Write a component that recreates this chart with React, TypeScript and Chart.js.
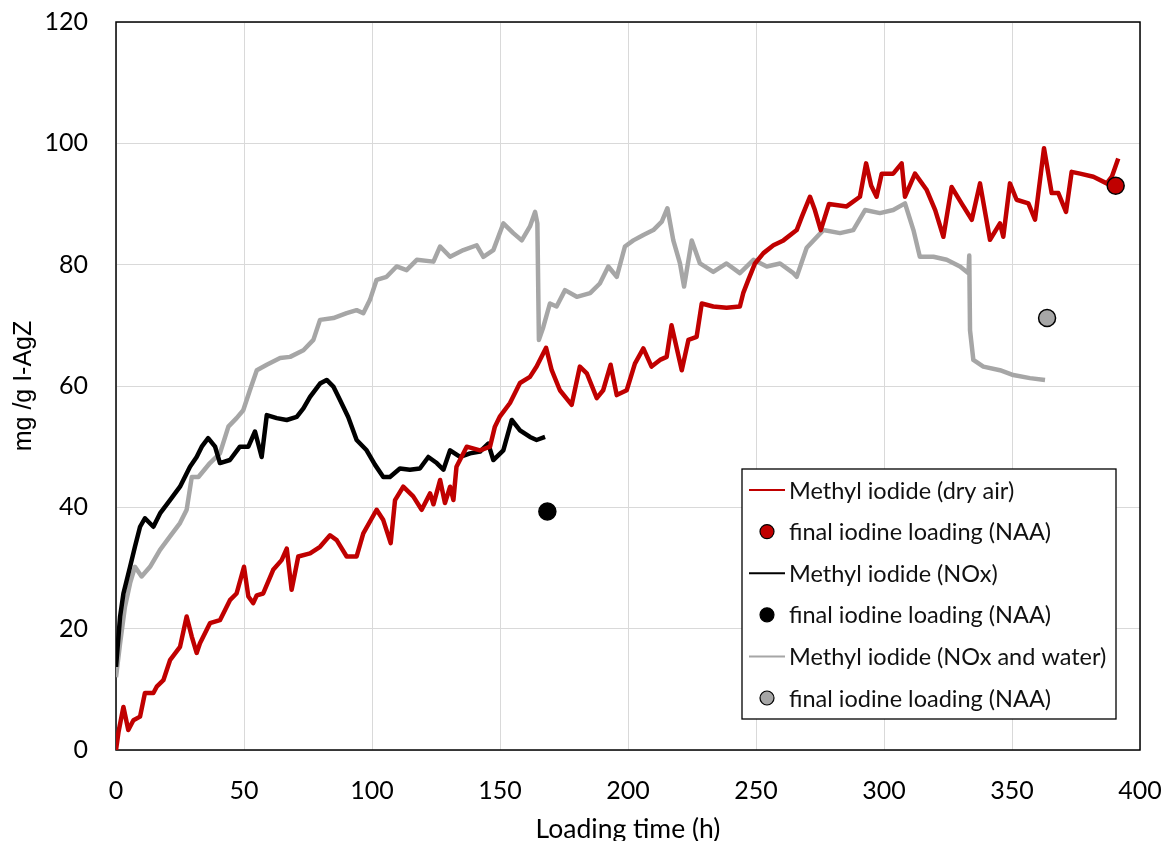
import React, { useEffect, useRef } from "react";
import { Chart, registerables } from "chart.js";

Chart.register(...registerables);

// ---- Data ----
const dryAirTime = [0, 1, 2.9, 4.8, 6.8, 9.4, 11.3, 14.6, 16, 18.5, 21.1, 25, 27.6, 29.6, 31.5, 32.8, 36.7, 40.6, 44.5, 47.1, 50, 51.7, 53.6, 55, 57.5, 61.4, 64.7, 66.7, 68.6, 71.2, 75.8, 79.7, 83.6, 86.2, 90.1, 94, 96.6, 101.8, 104.4, 107.3, 109, 112.2, 116.1, 119.4, 122.7, 124, 126.6, 128.5, 130.5, 131.8, 133, 137, 142.2, 146.1, 148, 150, 153.9, 157.8, 161.7, 164.3, 168, 170.2, 173.4, 178, 181.2, 183.9, 187.8, 190.3, 193.2, 195.6, 199.5, 202.7, 206, 209.2, 212.5, 215.1, 217, 221, 223.6, 226.8, 228.8, 233.3, 238.5, 243.7, 245, 247, 249.6, 252.9, 256.8, 260.7, 265.9, 268, 271.1, 273, 275.3, 278.5, 285.4, 290.6, 293, 295, 297.1, 299.1, 303.6, 306.9, 308.2, 312.1, 316.7, 320, 323.2, 326.4, 330.3, 334.3, 337.5, 341.4, 345.3, 346.6, 349.2, 351.8, 356.4, 359, 362.5, 365.5, 368.1, 371.1, 373.3, 376.6, 381.8, 387, 389, 391.5];
const dryAirLoad = [0, 3, 7.1, 3.3, 4.9, 5.5, 9.4, 9.4, 10.5, 11.5, 14.8, 17, 22, 18.7, 16, 17.6, 20.9, 21.4, 24.7, 25.8, 30.2, 25.3, 24.2, 25.5, 25.8, 29.7, 31.3, 33.2, 26.4, 31.9, 32.4, 33.5, 35.4, 34.6, 31.9, 31.9, 35.7, 39.6, 37.9, 34.1, 41.2, 43.4, 41.8, 39.6, 42.3, 40.5, 44.5, 40.7, 43.4, 41.2, 46.7, 50, 49.4, 50, 53.3, 55, 57.2, 60.5, 61.5, 63.2, 66.3, 62.6, 59.3, 56.9, 63.2, 62.1, 58, 59.3, 63.5, 58.5, 59.3, 63.7, 66.2, 63.2, 64.3, 64.8, 70, 62.6, 67.6, 68.1, 73.6, 73.1, 72.9, 73.1, 75.3, 77.5, 80.2, 81.9, 83.2, 84, 85.7, 88, 91.2, 89, 85.7, 90, 89.6, 91.2, 96.7, 93, 91.2, 95, 95, 96.7, 91.2, 95, 92.3, 89, 84.6, 92.8, 90.1, 87.4, 93.4, 84.1, 86.8, 84.6, 93.4, 90.7, 90.1, 87.4, 99.2, 91.8, 91.8, 88.7, 95.3, 95, 94.5, 93.4, 94.5, 97.5];

const noxTime = [0, 1.6, 2.9, 5.5, 7.4, 9.4, 11.3, 14.6, 17.2, 21.1, 25, 28.9, 31.5, 33.5, 36, 38.7, 40.6, 44.5, 48.4, 51.7, 54.3, 56.9, 58.9, 62.8, 66.7, 70.6, 73.2, 75.8, 79.7, 82.3, 84.9, 87.5, 90.7, 94, 97.9, 101.2, 104.4, 107, 110.9, 114.8, 118.7, 122, 125.3, 127.9, 130.5, 134.4, 138.3, 142.2, 145.4, 147.4, 151.3, 154.6, 157.8, 161.7, 164.3, 167.6];
const noxLoad = [13.7, 22, 25.8, 30.2, 33.5, 36.8, 38.2, 36.8, 39, 41.2, 43.4, 46.7, 48.3, 50, 51.4, 50, 47.3, 47.8, 50, 50, 52.5, 48.3, 55.2, 54.7, 54.4, 54.9, 56.3, 58.2, 60.4, 61, 59.9, 57.7, 54.9, 51.1, 49.4, 47, 45, 45, 46.4, 46.2, 46.4, 48.3, 47.3, 46.2, 49.4, 48.3, 48.9, 49.2, 50.5, 47.8, 49.4, 54.4, 52.7, 51.6, 51.1, 51.6];

const waterTime = [0, 1.6, 3.5, 5.5, 7.4, 10, 13.3, 17.2, 21.1, 25, 27.6, 29.6, 32.2, 36.7, 40.6, 43.9, 47.1, 49.7, 52.3, 55, 58.9, 64.1, 68, 73.2, 77.1, 79.7, 84.9, 90.1, 94, 96.6, 99.2, 101.8, 105.7, 109.6, 113.5, 117.5, 124, 126.6, 130.5, 135.7, 140.9, 143.5, 147.4, 151.3, 155.2, 158.5, 161.7, 163.7, 164.6, 165.2, 166.9, 169.5, 172.1, 175.4, 180, 185.2, 189, 192.3, 195.6, 198.8, 202.1, 206, 209.9, 213.2, 215.4, 217.7, 220.3, 221.9, 224.9, 228.1, 233.3, 238.5, 243.7, 249, 254.2, 259.4, 264.6, 265.9, 269.8, 276.3, 282.8, 288, 292.6, 298.4, 303.6, 308.2, 311.5, 314, 319.3, 324.5, 329.7, 333, 333.3, 333.6, 334.9, 338.8, 345.3, 350.5, 357, 362.9];
const waterLoad = [12, 17.6, 23.6, 27.5, 30.2, 28.6, 30.2, 33, 35.2, 37.4, 39.6, 45, 45, 47.3, 48.9, 53.3, 54.7, 56, 59.3, 62.6, 63.5, 64.6, 64.8, 65.9, 67.6, 70.9, 71.2, 72, 72.5, 72, 74.2, 77.5, 78, 79.7, 79.1, 80.8, 80.5, 83, 81.3, 82.4, 83.2, 81.3, 82.4, 86.8, 85.2, 84, 86.3, 88.7, 86.8, 67.6, 69.7, 73.6, 73.1, 75.8, 74.7, 75.3, 76.9, 79.7, 78, 83, 84, 84.9, 85.7, 87.1, 89.3, 84, 80.2, 76.4, 84, 80.2, 78.8, 80.2, 78.6, 80.8, 79.7, 80.2, 78.6, 78, 82.8, 85.7, 85.2, 85.7, 89, 88.5, 89, 90.1, 85.7, 81.3, 81.3, 80.8, 79.7, 78.6, 81.5, 69.2, 64.3, 63.2, 62.6, 61.8, 61.3, 61];

const naaTime = [390.5, 168.5, 363.7];
const naaLoad = [93, 39.3, 71.2];

const seriesLabels = [
  "Methyl iodide (dry air)",
  "final iodine loading (NAA)",
  "Methyl iodide (NOx)",
  "final iodine loading (NAA)",
  "Methyl iodide (NOx and water)",
  "final iodine loading (NAA)",
];
const seriesColors = ["#C00000", "#000000", "#A6A6A6"];

const xTicks = { min: 0, max: 400, step: 50 };
const yTicks = { min: 0, max: 120, step: 20 };
const xTitle = "Loading time (h)";
const yTitle = "mg /g I-AgZ";

const pair = (xs: number[], ys: number[]) => xs.map((x, i) => ({ x, y: ys[i] }));

const frameBorder = {
  id: "frameBorder",
  beforeDatasetsDraw(chart: any) {
    const { ctx, chartArea: a } = chart;
    ctx.save();
    ctx.strokeStyle = "#000";
    ctx.lineWidth = 1.5;
    ctx.strokeRect(a.left, a.top, a.right - a.left, a.bottom - a.top);
    ctx.restore();
  },
};

const boxLegend = {
  id: "boxLegend",
  afterDraw(chart: any) {
    const { ctx, chartArea: a } = chart;
    const w = 374;
    const h = 250;
    const x0 = a.right - 398;
    const y0 = a.bottom - 31 - h;
    ctx.save();
    ctx.fillStyle = "#fff";
    ctx.fillRect(x0, y0, w, h);
    ctx.strokeStyle = "#000";
    ctx.lineWidth = 1.3;
    ctx.strokeRect(x0, y0, w, h);
    ctx.font = "23.5px Lato";
    ctx.textBaseline = "middle";
    ctx.textAlign = "left";
    const rowH = 41.6;
    chart.data.datasets.forEach((ds: any, i: number) => {
      const cy = y0 + 21 + i * rowH;
      if (ds.showLine) {
        ctx.strokeStyle = ds.borderColor;
        ctx.lineWidth = 2;
        ctx.beginPath();
        ctx.moveTo(x0 + 7, cy);
        ctx.lineTo(x0 + 43, cy);
        ctx.stroke();
      } else {
        ctx.beginPath();
        ctx.arc(x0 + 25, cy, 7, 0, Math.PI * 2);
        ctx.fillStyle = ds.backgroundColor;
        ctx.fill();
        ctx.strokeStyle = "#000";
        ctx.lineWidth = 1.2;
        ctx.stroke();
      }
      ctx.fillStyle = "#111";
      ctx.fillText(ds.label, x0 + 47, cy + 1);
    });
    ctx.restore();
  },
};

const zeroPad = (s: any) => {
  s.paddingTop = 0;
  s.paddingBottom = 0;
  s.paddingLeft = 0;
  s.paddingRight = 0;
};

export default function App() {
  const ref = useRef<HTMLCanvasElement | null>(null);

  useEffect(() => {
    if (!ref.current) return;
    const lineDs = (k: number, xs: number[], ys: number[], order: number) => ({
      type: "line" as const,
      label: seriesLabels[k * 2],
      data: pair(xs, ys),
      borderColor: seriesColors[k],
      backgroundColor: seriesColors[k],
      borderWidth: 4.5,
      borderJoinStyle: "round" as const,
      pointRadius: 0,
      showLine: true,
      tension: 0,
      order,
    });
    const pointDs = (k: number) => ({
      type: "scatter" as const,
      label: seriesLabels[k * 2 + 1],
      data: [{ x: naaTime[k], y: naaLoad[k] }],
      borderColor: "#000",
      backgroundColor: seriesColors[k],
      pointRadius: 8.5,
      pointBorderWidth: 1.5,
      showLine: false,
      order: 0,
    });
    const chart = new Chart(ref.current, {
      type: "line",
      data: {
        datasets: [
          lineDs(0, dryAirTime, dryAirLoad, 1),
          pointDs(0),
          lineDs(1, noxTime, noxLoad, 2),
          pointDs(1),
          lineDs(2, waterTime, waterLoad, 3),
          pointDs(2),
        ] as any,
      },
      options: {
        responsive: false,
        animation: false,
        events: [],
        layout: { padding: { left: 0, top: 22, right: 26, bottom: 0 } },
        plugins: { legend: { display: false }, tooltip: { enabled: false }, title: { display: false } },
        scales: {
          x: {
            type: "linear",
            min: xTicks.min,
            max: xTicks.max,
            afterFit: (s: any) => {
              s.height = 91;
              zeroPad(s);
            },
            ticks: {
              stepSize: xTicks.step,
              padding: 26,
              color: "#000",
              font: { family: "Lato", size: 25 },
              maxRotation: 0,
            },
            grid: { color: "#D9D9D9", lineWidth: 1, drawTicks: false },
            border: { display: false },
            title: {
              display: true,
              text: xTitle,
              color: "#000",
              font: { family: "Lato", size: 26.5, lineHeight: 0.85 },
              padding: 0,
            },
          },
          y: {
            type: "linear",
            min: yTicks.min,
            max: yTicks.max,
            afterFit: (s: any) => {
              s.width = 116;
              zeroPad(s);
            },
            ticks: {
              stepSize: yTicks.step,
              padding: 28,
              color: "#000",
              font: { family: "Lato", size: 25 },
            },
            grid: { color: "#D9D9D9", lineWidth: 1, drawTicks: false },
            border: { display: false },
            title: {
              display: true,
              text: yTitle,
              color: "#000",
              font: { family: "Liberation Sans", size: 25, lineHeight: 1.2 },
              padding: { top: 9.5, bottom: 0 },
            },
          },
        },
      },
      plugins: [frameBorder, boxLegend],
    });
    return () => chart.destroy();
  }, []);

  return (
    <div style={{ position: "fixed", left: 0, top: 0, width: 1166, height: 841, background: "#fff" }}>
      <canvas ref={ref} width={1166} height={841} style={{ width: 1166, height: 841, display: "block" }} />
    </div>
  );
}
